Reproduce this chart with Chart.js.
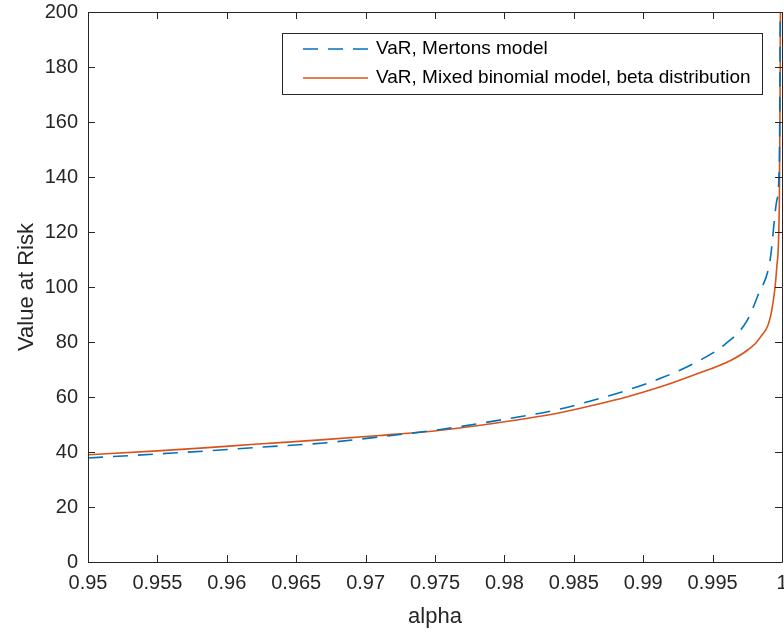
<!DOCTYPE html>
<html>
<head>
<meta charset="utf-8">
<script src="https://cdn.jsdelivr.net/npm/chart.js@4/dist/chart.umd.min.js"></script>
<style>
    html, body { margin: 0; padding: 0; background: #fff; }
    canvas { display: block; }
</style>
</head>
<body>
<canvas id="varChart" width="784" height="632"></canvas>
<script>
// confidence levels and VaR read for each model
let alphaMerton = [0.95, 0.955, 0.9586, 0.962, 0.967, 0.971, 0.9754, 0.98, 0.984, 0.9864, 0.9888, 0.9912, 0.9936, 0.9958, 0.99745, 0.99829, 0.99913, 0.99962, 0.99981, 0.9999];
let varMerton = [37.8, 39.3, 40.4, 41.6, 43.3, 45.5, 48.2, 51.9, 55.6, 58.8, 62.4, 66.7, 72.1, 78.8, 87.5, 97.3, 109.4, 131.3, 145.9, 230];

let alphaBeta = [0.95, 0.955, 0.9586, 0.962, 0.967, 0.971, 0.9754, 0.98, 0.984, 0.9864, 0.9888, 0.9912, 0.9936, 0.9963, 0.9975, 0.99841, 0.99925, 0.99962, 0.99981, 0.99986, 0.99992];
let varBeta = [39.0, 40.4, 41.6, 42.8, 44.5, 46.0, 47.9, 51.0, 54.3, 57.0, 60.0, 63.6, 67.9, 73.3, 77.0, 81.5, 91.2, 107.0, 131.3, 167.8, 240];

let xTicks = [0.95, 0.955, 0.96, 0.965, 0.97, 0.975, 0.98, 0.985, 0.99, 0.995, 1];
let yTicks = [0, 20, 40, 60, 80, 100, 120, 140, 160, 180, 200];

let labels = ['VaR, Mertons model', 'VaR, Mixed binomial model, beta distribution'];

const axisColor = '#262626';
const fontFamily = '"Liberation Sans", Arial, Helvetica, sans-serif';

let toPoints = function (xs, ys) {
    let pts = [];
    for (let i = 0; i < xs.length; i++) {
        pts.push({ x: xs[i], y: ys[i] });
    }
    return pts;
}

// box round the axes with inward ticks on all four sides
const axesBox = {
    id: 'axesBox',
    afterDatasetsDraw(chart) {
        const ctx = chart.ctx;
        const a = chart.chartArea;
        const len = 7;
        ctx.save();
        ctx.strokeStyle = axisColor;
        ctx.lineWidth = 1;
        ctx.beginPath();
        ctx.rect(Math.round(a.left) + 0.5, Math.round(a.top) + 0.5,
            Math.round(a.right - a.left), Math.round(a.bottom - a.top));
        xTicks.forEach(v => {
            let px = Math.round(chart.scales.x.getPixelForValue(v)) + 0.5;
            ctx.moveTo(px, a.bottom);
            ctx.lineTo(px, a.bottom - len);
            ctx.moveTo(px, a.top);
            ctx.lineTo(px, a.top + len);
        });
        yTicks.forEach(v => {
            let py = Math.round(chart.scales.y.getPixelForValue(v)) + 0.5;
            ctx.moveTo(a.left, py);
            ctx.lineTo(a.left + len, py);
            ctx.moveTo(a.right, py);
            ctx.lineTo(a.right - len, py);
        });
        ctx.stroke();
        ctx.restore();
    }
};

// legend box in the upper right of the axes
const boxLegend = {
    id: 'boxLegend',
    afterDraw(chart) {
        const ctx = chart.ctx;
        const left = 282, top = 33, w = 480, h = 61;
        ctx.save();
        ctx.fillStyle = '#fff';
        ctx.fillRect(left, top, w, h);
        ctx.strokeStyle = axisColor;
        ctx.lineWidth = 1;
        ctx.strokeRect(left + 0.5, top + 0.5, w, h);
        ctx.font = '19px ' + fontFamily;
        ctx.textBaseline = 'middle';
        chart.data.datasets.forEach((ds, i) => {
            let y = top + 16 + i * 29;
            ctx.strokeStyle = ds.borderColor;
            ctx.lineWidth = ds.borderWidth;
            ctx.setLineDash(ds.borderDash || []);
            ctx.beginPath();
            ctx.moveTo(left + 21, y);
            ctx.lineTo(left + 86, y);
            ctx.stroke();
            ctx.setLineDash([]);
            ctx.fillStyle = '#000';
            ctx.fillText(ds.label, left + 94, y);
        });
        ctx.restore();
    }
};

let fmtTick = function (v) {
    return String(parseFloat(v.toFixed(3)));
}

let canvas = document.getElementById('varChart');
let myChart = new Chart(canvas, {
    type: 'line',
    data: {
        datasets: [
            {
                label: labels[0],
                data: toPoints(alphaMerton, varMerton),
                borderColor: '#0072BD',
                borderWidth: 1.6,
                borderDash: [15, 10],
                cubicInterpolationMode: 'monotone',
                fill: false
            },
            {
                label: labels[1],
                data: toPoints(alphaBeta, varBeta),
                borderColor: '#D95319',
                borderWidth: 1.6,
                cubicInterpolationMode: 'monotone',
                fill: false
            }
        ]
    },
    options: {
        responsive: false,
        animation: false,
        devicePixelRatio: 1,
        layout: { padding: { top: 12, right: 2, left: 0, bottom: 0 } },
        elements: { point: { radius: 0 } },
        plugins: {
            legend: { display: false },
            tooltip: { enabled: false }
        },
        scales: {
            x: {
                type: 'linear',
                min: 0.95,
                max: 1,
                grid: { display: false, drawTicks: false },
                border: { display: false },
                afterBuildTicks: s => { s.ticks = xTicks.map(v => ({ value: v })); },
                afterFit: s => {
                    s.height = 70;
                    s.paddingLeft = 0;
                    s.paddingRight = 0;
                },
                ticks: {
                    color: axisColor,
                    padding: 9,
                    maxRotation: 0,
                    font: { family: fontFamily, size: 20 },
                    callback: v => fmtTick(v)
                },
                title: {
                    display: true,
                    text: 'alpha',
                    color: axisColor,
                    padding: { top: 0, bottom: 2 },
                    font: { family: fontFamily, size: 22 }
                }
            },
            y: {
                min: 0,
                max: 200,
                grid: { display: false, drawTicks: false },
                border: { display: false },
                afterBuildTicks: s => { s.ticks = yTicks.map(v => ({ value: v })); },
                afterFit: s => {
                    s.width = 88;
                    s.paddingTop = 0;
                    s.paddingBottom = 0;
                },
                ticks: {
                    color: axisColor,
                    padding: 10,
                    font: { family: fontFamily, size: 20 },
                    callback: v => fmtTick(v)
                },
                title: {
                    display: true,
                    text: 'Value at Risk',
                    color: axisColor,
                    padding: { top: 14, bottom: 0 },
                    font: { family: fontFamily, size: 22 }
                }
            }
        }
    },
    plugins: [axesBox, boxLegend]
});
</script>
</body>
</html>
